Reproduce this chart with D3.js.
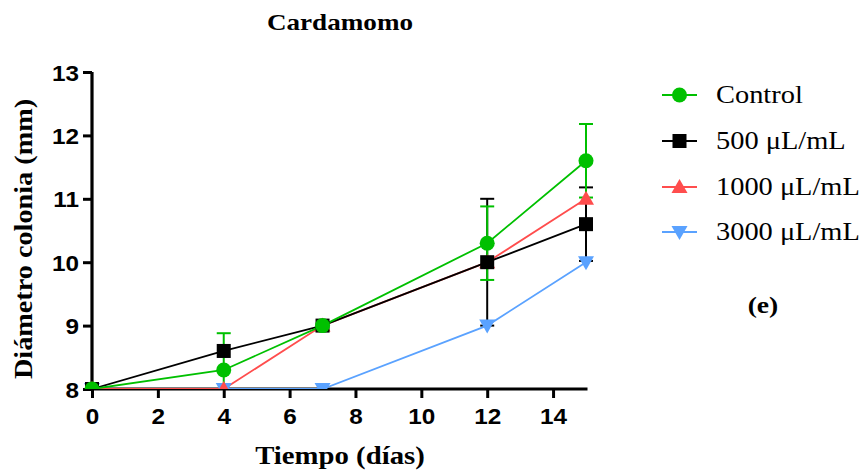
<!DOCTYPE html>
<html><head><meta charset="utf-8">
<script src="https://cdn.jsdelivr.net/npm/d3@7"></script>
<style>body{margin:0;background:#fff}svg{display:block}</style>
</head><body>
<script>
const days = [0, 4, 7, 12, 15];
const seriesNames = ["Control", "500 \u03bcL/mL", "1000 \u03bcL/mL", "3000 \u03bcL/mL"];
const controlMean = [8, 8.3, 9, 10.3, 11.6];
const controlErr  = [0, 0.58, 0, 0.58, 0.58];
const m500Mean = [8, 8.6, 9, 10, 10.6];
const m500Err  = [0, 0, 0, 1.0, 0.58];
const m1000Mean = [8, 8, 9, 10, 11];
const m1000Err  = [0, 0, 0, 0, 0];
const m3000Mean = [8, 8, 8, 9, 10];
const m3000Err  = [0, 0, 0, 0, 0];
const xTicks = [0, 2, 4, 6, 8, 10, 12, 14];
const yTicks = [8, 9, 10, 11, 12, 13];
const colors = ["#00c000", "#000000", "#ff4d4d", "#5aa2ff"];
const symbols = ["circle", "square", "up", "down"];

const W = 863, H = 474;
const svg = d3.select("body").append("svg").attr("width", W).attr("height", H);
const x = d3.scaleLinear().domain([0, 15]).range([92, 586]);
const y = d3.scaleLinear().domain([8, 13]).range([389, 72]);

const series = [
  {name: seriesNames[0], mean: controlMean, err: controlErr, color: colors[0], sym: symbols[0]},
  {name: seriesNames[1], mean: m500Mean, err: m500Err, color: colors[1], sym: symbols[1]},
  {name: seriesNames[2], mean: m1000Mean, err: m1000Err, color: colors[2], sym: symbols[2]},
  {name: seriesNames[3], mean: m3000Mean, err: m3000Err, color: colors[3], sym: symbols[3]}
];

function stretchText(sel, sx) {
  sel.each(function(){
    const t = d3.select(this);
    const ax = +t.attr("x"), ay = +t.attr("y");
    t.attr("transform", `translate(${ax},${ay}) scale(${sx},1) translate(${-ax},${-ay})`);
  });
}

function drawMarker(g, type, cx, cy, color) {
  if (type === "circle") {
    g.append("circle").attr("cx", cx).attr("cy", cy).attr("r", 7.5).attr("fill", color);
  } else if (type === "square") {
    g.append("rect").attr("x", cx - 7).attr("y", cy - 7).attr("width", 14).attr("height", 14).attr("fill", color);
  } else if (type === "up") {
    g.append("path").attr("d", `M${cx},${cy-8}L${cx+8},${cy+6}L${cx-8},${cy+6}Z`).attr("fill", color);
  } else {
    g.append("path").attr("d", `M${cx},${cy+8}L${cx+8},${cy-6}L${cx-8},${cy-6}Z`).attr("fill", color);
  }
}

svg.append("clipPath").attr("id", "plotclip").append("rect")
  .attr("x", x(0) - 20).attr("y", y(13) - 20).attr("width", x(15) - x(0) + 40).attr("height", y(8) - y(13) + 20);

// Axes
const xAxis = svg.append("g").attr("transform", `translate(0,${y(8)})`)
  .call(d3.axisBottom(x).tickValues(xTicks).tickSize(9).tickPadding(5).tickFormat(d3.format("d")));
const yAxis = svg.append("g").attr("transform", `translate(${x(0)},0)`)
  .call(d3.axisLeft(y).tickValues(yTicks).tickSize(9).tickPadding(5).tickFormat(d3.format("d")));
[xAxis, yAxis].forEach(a => {
  a.select(".domain").attr("stroke-width", 3.2).attr("stroke", "#000");
  a.selectAll(".tick line").attr("stroke-width", 3).attr("stroke", "#000");
  a.selectAll("text").attr("font-family", "Liberation Sans, Arial, sans-serif")
    .attr("font-weight", "bold").attr("font-size", 22.5).attr("fill", "#000");
});
xAxis.select(".domain").attr("d", `M${x(0)},0H${x(15)+1.5}`);
yAxis.select(".domain").attr("d", `M0,${y(13)}V${y(8)}`);
xAxis.selectAll(".tick text").attr("dy", "0.71em").attr("y", 19);
yAxis.selectAll(".tick text").attr("x", -13).attr("dy", "0.36em");
xAxis.selectAll(".tick text").attr("transform", "scale(1.08,1)");
yAxis.selectAll(".tick text").attr("transform", "translate(-13,0) scale(1.08,1) translate(13,0)");

const plot = svg.append("g").attr("clip-path", "url(#plotclip)");
const errG = plot.append("g"), lineG = plot.append("g"), markG = plot.append("g");
const line = d3.line().x((d, i) => x(days[i])).y(d => y(d));

series.slice().reverse().forEach(s => {
  s.mean.forEach((m, i) => {
    const e = s.err[i];
    if (!e) return;
    const cx = x(days[i]);
    const hi = m + e, lo = m - e;
    errG.append("line").attr("x1", cx).attr("x2", cx)
      .attr("y1", y(hi)).attr("y2", y(Math.max(lo, 7.9)))
      .attr("stroke", s.color).attr("stroke-width", 2);
    errG.append("line").attr("x1", cx - 7).attr("x2", cx + 7).attr("y1", y(hi)).attr("y2", y(hi))
      .attr("stroke", s.color).attr("stroke-width", 2);
    if (lo >= 8) errG.append("line").attr("x1", cx - 7).attr("x2", cx + 7).attr("y1", y(lo)).attr("y2", y(lo))
      .attr("stroke", s.color).attr("stroke-width", 2);
  });
});
series.slice().reverse().forEach(s => {
  lineG.append("path").attr("d", line(s.mean)).attr("fill", "none")
    .attr("stroke", s.color).attr("stroke-width", 1.8);
});
series.slice().reverse().forEach(s => {
  const g = markG.append("g");
  s.mean.forEach((m, i) => drawMarker(g, s.sym, x(days[i]), y(m), s.color));
});

// Titles
const serif = "Liberation Serif, Times New Roman, serif";
svg.append("text").attr("x", 340).attr("y", 30).attr("text-anchor", "middle")
  .attr("font-family", serif).attr("font-weight", "bold").attr("font-size", 24).text("Cardamomo")
  .call(stretchText, 1.13);
svg.append("text").attr("x", 340).attr("y", 464).attr("text-anchor", "middle")
  .attr("font-family", serif).attr("font-weight", "bold").attr("font-size", 25).text("Tiempo (d\u00edas)")
  .call(stretchText, 1.15);
svg.append("text").attr("transform", "translate(32,239) rotate(-90) scale(1.13,1)")
  .attr("text-anchor", "middle")
  .attr("font-family", serif).attr("font-weight", "bold").attr("font-size", 25).text("Di\u00e1metro colonia (mm)");
svg.append("text").attr("x", 763).attr("y", 313).attr("text-anchor", "middle")
  .attr("font-family", serif).attr("font-weight", "bold").attr("font-size", 24).text("(e)")
  .call(stretchText, 1.15);

// Legend
const legY = [95, 141, 187, 232];
series.forEach((s, i) => {
  const g = svg.append("g");
  g.append("line").attr("x1", 662).attr("x2", 697).attr("y1", legY[i]).attr("y2", legY[i])
    .attr("stroke", s.color).attr("stroke-width", 1.8);
  drawMarker(g, s.sym, 679.5, legY[i], s.color);
  g.append("text").attr("x", 716).attr("y", legY[i] + 8).attr("font-family", serif)
    .attr("font-size", 24.5).attr("fill", "#000").text(s.name).call(stretchText, 1.16);
});
</script>
</body></html>
